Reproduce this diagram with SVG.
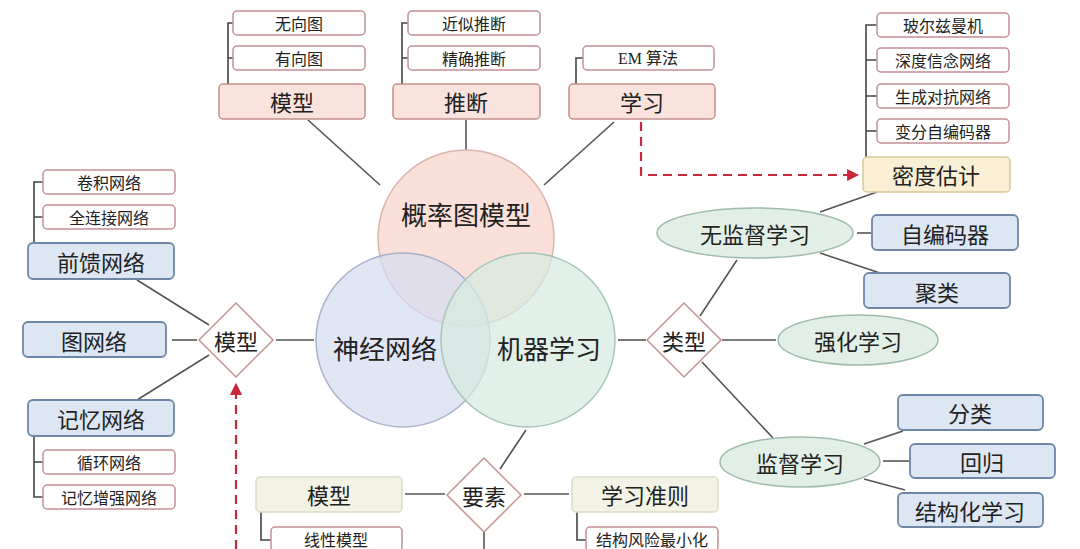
<svg xmlns="http://www.w3.org/2000/svg" width="1080" height="549" viewBox="0 0 1080 549">
<defs>
<marker id="arr" viewBox="0 0 10 10" refX="9" refY="5" markerWidth="5.5" markerHeight="5.5" orient="auto">
<path d="M0,0 L10,5 L0,10 z" fill="#c8283c"/>
</marker>
<style>
text{font-family:"Liberation Serif","Noto Sans CJK SC",serif;fill:#222;text-anchor:middle;dominant-baseline:central}
.t{font-family:"Noto Sans CJK SC",sans-serif}
.sm{font-size:16px}
.md{font-size:22px}
.lg{font-size:26px}
.pink{fill:#fbe3dd;stroke:#c48f8c;stroke-width:1.5}
.wh{fill:#ffffff;stroke:#c48f97;stroke-width:1.5}
.blue{fill:#dde6f3;stroke:#6f87a6;stroke-width:1.8}
.yel{fill:#f8efd5;stroke:#d8c89c;stroke-width:1.5}
.beige{fill:#f3f3e5;stroke:#dcdcc6;stroke-width:1.5}
.ell{fill:#e1efe6;stroke:#9fbcac;stroke-width:1.5}
.dia{fill:#ffffff;stroke:#c49494;stroke-width:1.5}
.ln{stroke:#555;stroke-width:1.6;fill:none}
.br{stroke:#444;stroke-width:1.6;fill:none}
.dash{stroke:#c8283c;stroke-width:2.2;fill:none;stroke-dasharray:9,6}
.circ{stroke-width:1.5;fill-opacity:0.72}
</style>
</defs>
<rect width="1080" height="549" fill="#ffffff"/>

<g id="connectors">
<line class="ln" x1="308" y1="120" x2="380" y2="185"/>
<line class="ln" x1="466" y1="120" x2="466" y2="150"/>
<line class="ln" x1="614" y1="122" x2="544" y2="185"/>
<line class="ln" x1="137" y1="280" x2="209" y2="325"/>
<line class="ln" x1="172" y1="340" x2="197" y2="340"/>
<line class="ln" x1="137" y1="400" x2="209" y2="355"/>
<line class="ln" x1="276" y1="340" x2="314" y2="340"/>
<line class="ln" x1="618" y1="340" x2="646" y2="340"/>
<line class="ln" x1="700" y1="316" x2="737" y2="260"/>
<line class="ln" x1="722" y1="340" x2="776" y2="340"/>
<line class="ln" x1="702" y1="362" x2="773" y2="438"/>
<line class="ln" x1="820" y1="212" x2="877" y2="192"/>
<line class="ln" x1="857" y1="233" x2="871" y2="233"/>
<line class="ln" x1="820" y1="253" x2="880" y2="273"/>
<line class="ln" x1="864" y1="444" x2="903" y2="431"/>
<line class="ln" x1="883" y1="461" x2="910" y2="461"/>
<line class="ln" x1="864" y1="479" x2="905" y2="490"/>
<line class="ln" x1="526" y1="430" x2="500" y2="469"/>
<line class="ln" x1="405" y1="494" x2="445" y2="494"/>
<line class="ln" x1="524" y1="494" x2="569" y2="494"/>
<line class="ln" x1="484" y1="532" x2="484" y2="549"/>
<path class="br" d="M228,84 V23 H233 M228,58 H233"/>
<path class="br" d="M402,84 V23 H408 M402,58 H408"/>
<path class="br" d="M576,84 V58 H583"/>
<path class="br" d="M866,157 V25 H877 M866,60 H877 M866,96 H877 M866,131 H877"/>
<path class="br" d="M34,243 V182 H43 M34,217 H43"/>
<path class="br" d="M34,436 V497 H43 M34,462 H43"/>
<path class="br" d="M261,512 V540 H271"/>
<path class="br" d="M577,512 V540 H586"/>
<path class="dash" d="M641,122 V175 H858" marker-end="url(#arr)"/>
<path class="dash" d="M236,549 V384" marker-end="url(#arr)"/>
</g>

<g id="venn">
<circle class="circ" cx="466" cy="238" r="88" fill="#f8d4c9" stroke="#d9b5ad"/>
<circle class="circ" cx="403" cy="340" r="87" fill="#d6ddf1" stroke="#aab2ca"/>
<circle class="circ" cx="528" cy="340" r="87" fill="#d5ebe0" stroke="#a7c6b8"/>
<text class="lg t" x="466" y="213">概率图模型</text>
<text class="lg t" x="385" y="347">神经网络</text>
<text class="lg t" x="549" y="347">机器学习</text>
</g>

<g id="n-pgm-model"><rect class="pink" x="219" y="84" width="146" height="35" rx="4"/><text class="md t" x="292" y="101">模型</text></g>
<g id="n-undirected"><rect class="wh" x="233" y="11" width="132" height="24" rx="4"/><text class="sm t" x="299" y="23">无向图</text></g>
<g id="n-directed"><rect class="wh" x="233" y="46" width="132" height="24" rx="4"/><text class="sm t" x="299" y="58">有向图</text></g>
<g id="n-infer"><rect class="pink" x="393" y="84" width="147" height="35" rx="4"/><text class="md t" x="466" y="101">推断</text></g>
<g id="n-approx"><rect class="wh" x="408" y="11" width="132" height="24" rx="4"/><text class="sm t" x="474" y="23">近似推断</text></g>
<g id="n-exact"><rect class="wh" x="408" y="46" width="132" height="24" rx="4"/><text class="sm t" x="474" y="58">精确推断</text></g>
<g id="n-learn"><rect class="pink" x="569" y="84" width="146" height="35" rx="4"/><text class="md t" x="642" y="101">学习</text></g>
<g id="n-em"><rect class="wh" x="583" y="46" width="131" height="24" rx="4"/><text class="sm" x="648" y="58">EM 算法</text></g>

<g id="n-density"><rect class="yel" x="863" y="157" width="147" height="35" rx="4"/><text class="md t" x="936" y="174">密度估计</text></g>
<g id="n-boltz"><rect class="wh" x="877" y="13" width="132" height="24" rx="4"/><text class="sm t" x="943" y="25">玻尔兹曼机</text></g>
<g id="n-dbn"><rect class="wh" x="877" y="48" width="132" height="24" rx="4"/><text class="sm t" x="943" y="60">深度信念网络</text></g>
<g id="n-gan"><rect class="wh" x="877" y="84" width="132" height="24" rx="4"/><text class="sm t" x="943" y="96">生成对抗网络</text></g>
<g id="n-vae"><rect class="wh" x="877" y="119" width="132" height="24" rx="4"/><text class="sm t" x="943" y="131">变分自编码器</text></g>

<g id="n-ff"><rect class="blue" x="28" y="243" width="146" height="36" rx="5"/><text class="md t" x="101" y="261">前馈网络</text></g>
<g id="n-conv"><rect class="wh" x="43" y="170" width="132" height="24" rx="4"/><text class="sm t" x="109" y="182">卷积网络</text></g>
<g id="n-fc"><rect class="wh" x="43" y="205" width="132" height="24" rx="4"/><text class="sm t" x="109" y="217">全连接网络</text></g>
<g id="n-graph"><rect class="blue" x="23" y="322" width="143" height="35" rx="5"/><text class="md t" x="94" y="340">图网络</text></g>
<g id="n-mem"><rect class="blue" x="28" y="400" width="146" height="36" rx="5"/><text class="md t" x="101" y="418">记忆网络</text></g>
<g id="n-rnn"><rect class="wh" x="43" y="450" width="132" height="24" rx="4"/><text class="sm t" x="109" y="462">循环网络</text></g>
<g id="n-mann"><rect class="wh" x="43" y="485" width="132" height="24" rx="4"/><text class="sm t" x="109" y="497">记忆增强网络</text></g>
<g id="n-nn-model"><polygon class="dia" points="236,303 273,340 236,377 199,340"/><text class="md t" x="236" y="340">模型</text></g>

<g id="n-type"><polygon class="dia" points="684,303 721,340 684,377 647,340"/><text class="md t" x="684" y="340">类型</text></g>
<g id="n-unsup"><ellipse class="ell" cx="755" cy="233" rx="98" ry="25"/><text class="md t" x="755" y="233">无监督学习</text></g>
<g id="n-ae"><rect class="blue" x="872" y="215" width="146" height="35" rx="5"/><text class="md t" x="945" y="233">自编码器</text></g>
<g id="n-cluster"><rect class="blue" x="864" y="273" width="146" height="35" rx="5"/><text class="md t" x="937" y="291">聚类</text></g>
<g id="n-rl"><ellipse class="ell" cx="858" cy="340" rx="80" ry="25"/><text class="md t" x="858" y="340">强化学习</text></g>
<g id="n-sup"><ellipse class="ell" cx="800" cy="462" rx="80" ry="25"/><text class="md t" x="800" y="462">监督学习</text></g>
<g id="n-cls"><rect class="blue" x="898" y="395" width="145" height="35" rx="5"/><text class="md t" x="970" y="412">分类</text></g>
<g id="n-reg"><rect class="blue" x="910" y="444" width="145" height="34" rx="5"/><text class="md t" x="982" y="461">回归</text></g>
<g id="n-struct"><rect class="blue" x="898" y="493" width="145" height="34" rx="5"/><text class="md t" x="970" y="510">结构化学习</text></g>

<g id="n-elem"><polygon class="dia" points="484,458 521,495 484,532 447,495"/><text class="md t" x="484" y="495">要素</text></g>
<g id="n-ml-model"><rect class="beige" x="256" y="477" width="146" height="35" rx="4"/><text class="md t" x="329" y="494">模型</text></g>
<g id="n-linear"><rect class="wh" x="271" y="527" width="131" height="24" rx="4"/><text class="sm t" x="336" y="539">线性模型</text></g>
<g id="n-criterion"><rect class="beige" x="572" y="477" width="146" height="35" rx="4"/><text class="md t" x="645" y="494">学习准则</text></g>
<g id="n-srm"><rect class="wh" x="586" y="527" width="132" height="24" rx="4"/><text class="sm t" x="652" y="539">结构风险最小化</text></g>
</svg>
